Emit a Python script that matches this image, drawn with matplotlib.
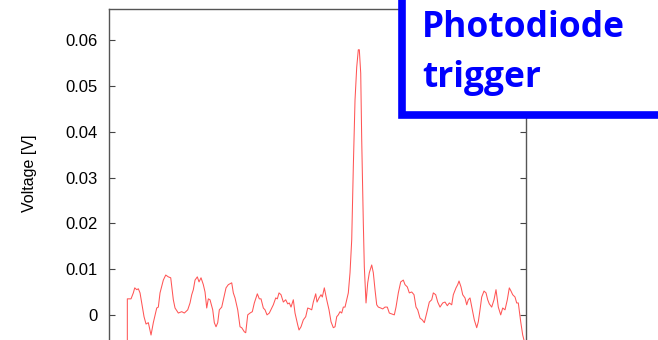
import numpy as np
import matplotlib
matplotlib.use("Agg")
import matplotlib.pyplot as plt
from matplotlib.patches import Rectangle

# photodiode trace: time [arb. units] and voltage [V]
time = [1.83, 1.83, 2.2, 2.43, 2.57, 2.77, 2.93, 3.1, 3.27, 3.5, 3.7, 3.93, 4.2, 4.43, 4.77, 4.93,
        5.1, 5.43, 5.67, 5.93, 6.17, 6.43, 6.6, 6.93, 7.27, 7.53, 7.87, 8.1, 8.27, 8.43, 8.6, 8.83,
        9.0, 9.2, 9.43, 9.6, 9.77, 9.93, 10.1, 10.37, 10.53, 10.7, 10.87, 11.03, 11.27, 11.5, 11.7,
        11.93, 12.27, 12.43, 12.6, 12.87, 13.1, 13.27, 13.53, 13.67, 13.87, 14.1, 14.33, 14.53,
        14.83, 15.03, 15.2, 15.43, 15.6, 15.8, 16.03, 16.27, 16.43, 16.67, 16.83, 17.0, 17.2,
        17.43, 17.67, 17.87, 18.03, 18.2, 18.43, 18.6, 18.87, 19.0, 19.2, 19.43, 19.67, 19.87,
        20.1, 20.27, 20.43, 20.67, 20.8, 21.0, 21.2, 21.33, 21.53, 21.77, 22.0, 22.2, 22.43, 22.6,
        22.77, 22.93, 23.1, 23.27, 23.43, 23.6, 23.77, 23.93, 24.1, 24.27, 24.43, 24.6, 24.77,
        24.93, 25.03, 25.17, 25.27, 25.43, 25.53, 25.7, 25.87, 26.03, 26.27, 26.43, 26.6, 26.77,
        26.93, 27.17, 27.37, 27.6, 27.83, 28.03, 28.27, 28.53, 28.7, 28.93, 29.17, 29.43, 29.6,
        29.83, 30.03, 30.27, 30.5, 30.7, 30.87, 31.1, 31.33, 31.53, 31.77, 32.03, 32.27, 32.43,
        32.67, 32.87, 33.1, 33.37, 33.6, 33.83, 34.03, 34.27, 34.43, 34.7, 34.87, 35.0, 35.2,
        35.37, 35.6, 35.77, 35.93, 36.1, 36.33, 36.53, 36.77, 36.93, 37.1, 37.27, 37.5, 37.7,
        37.87, 38.03, 38.27, 38.5, 38.7, 38.93, 39.17, 39.37, 39.6, 39.83, 40.03, 40.2, 40.37,
        40.6, 40.77, 40.93, 41.17, 41.37, 41.5, 41.6]
voltage = [-0.01, 0.0035, 0.0035, 0.0048, 0.0059, 0.0055, 0.0057, 0.0048, 0.0026, -0.0004,
           -0.0020, -0.0017, -0.0044, -0.0017, 0.0015, 0.0017, 0.0048, 0.0076, 0.0087, 0.0083,
           0.0081, 0.0033, 0.0015, 0.0004, 0.0007, 0.0004, 0.0011, 0.0026, 0.0044, 0.0055,
           0.0076, 0.0083, 0.0072, 0.0081, 0.0066, 0.0050, 0.0015, 0.0035, 0.0033, 0.0011,
           -0.0017, -0.0026, -0.0017, 0.0011, 0.0017, 0.0039, 0.0059,
           0.0066, 0.0070, 0.0048, 0.0037, 0.0011, -0.0026, -0.0028, -0.0037, -0.0039, 0.0,
           0.0004, 0.0007, 0.0026, 0.0046, 0.0035, 0.0035, 0.0015, 0.0011, 0.0, 0.0004, 0.0015,
           0.0022, 0.0037, 0.0035, 0.0048, 0.0044, 0.0028, 0.0033, 0.0024, 0.0026, 0.0017,
           0.0033, 0.0004, -0.0022, -0.0033, -0.0026, -0.0011, -0.0004, 0.0015, 0.0013, 0.0011,
           0.0028, 0.0046, 0.0028, 0.0037, 0.0044, 0.0039, 0.0059, 0.0033, 0.0011, -0.0015,
           -0.0028, -0.0026,
           -0.0004, 0.0, 0.0007, 0.0004, 0.0017, 0.0017, 0.0033, 0.0048, 0.0092, 0.0164, 0.0323,
           0.0469, 0.0541, 0.0579, 0.0579, 0.0528, 0.0382, 0.0201, 0.0105, 0.0026, 0.0070,
           0.0092, 0.0109, 0.0092, 0.0055, 0.0022, 0.0017, 0.0015, 0.0013, 0.0017, 0.0017,
           0.0004, 0.0002, 0.0, 0.0017, 0.0048, 0.0072, 0.0076, 0.0066, 0.0061, 0.0048, 0.0050,
           0.0044, 0.0017, 0.0011, -0.0007, -0.0011, -0.0017, 0.0004, 0.0028, 0.0033, 0.0048,
           0.0044, 0.0028, 0.0017, 0.0026, 0.0028, 0.0020, 0.0026, 0.0022, 0.0044, 0.0059,
           0.0066, 0.0074, 0.0061, 0.0044, 0.0037, 0.0022, 0.0033, 0.0037, 0.0011, -0.0011,
           -0.0028, -0.0015, 0.0011, 0.0039, 0.0052, 0.0048, 0.0033, 0.0024, 0.0017, 0.0033,
           0.0055, 0.0017, 0.0, 0.0015, 0.0011, 0.0033, 0.0059, 0.0052, 0.0044, 0.0039, 0.0026,
           0.0026, -0.0015, -0.0044, -0.0055, -0.008]

yticks = [0, 0.01, 0.02, 0.03, 0.04, 0.05, 0.06]
ytick_labels = ["0", "0.01", "0.02", "0.03", "0.04", "0.05", "0.06"]

plt.rcParams['font.family'] = ['Liberation Sans', 'DejaVu Sans']

fig = plt.figure(figsize=(6.58, 3.40), dpi=100)
ax = fig.add_axes([0.1657, -0.05, 0.6337, 1.0235])

ax.plot(time, voltage, color='#ff5555', lw=0.75)

ax.set_xlim(0, 41.7)
ax.set_ylim(-0.0092, 0.0668)
ax.set_yticks(yticks)
ax.set_yticklabels(ytick_labels)
ax.set_xticks([])
ax.tick_params(axis='y', direction='in', length=4, width=0.8, color='#444444',
               labelsize=12, pad=8, right=True)
for s in ax.spines.values():
    s.set_color('#555555')
    s.set_linewidth(1.0)

ax.set_ylabel("Voltage [V]", fontsize=11.5)
ax.yaxis.set_label_coords(-0.172, 0.529)

# label box in the upper right corner
box = Rectangle((401.5 / 658, 1 - 115 / 340), 0.6, 0.6, transform=fig.transFigure,
                facecolor='white', edgecolor='#0000ff', lw=5.5, clip_on=False, zorder=5)
fig.add_artist(box)
fig.text(422 / 658, 1 - 37 / 340, "Photodiode", color='#0000ff', fontsize=25.5,
         fontweight='bold', family='Open Sans', va='baseline', zorder=6)
fig.text(422 / 658, 1 - 87 / 340, "trigger", color='#0000ff', fontsize=25.5,
         fontweight='bold', family='Open Sans', va='baseline', zorder=6)

fig.savefig("out.png", dpi=100)
